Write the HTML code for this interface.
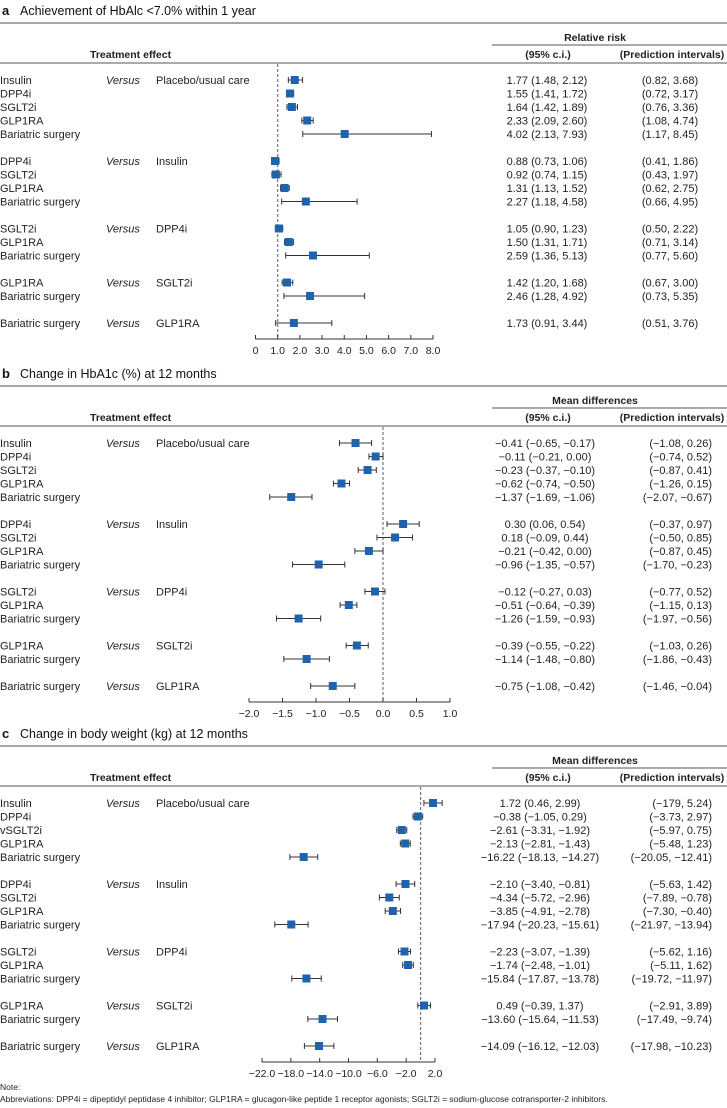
<!DOCTYPE html>
<html><head><meta charset="utf-8">
<style>
html,body{margin:0;padding:0;background:#fff;}
svg{display:block;font-family:"Liberation Sans",Arial,sans-serif;}
</style></head>
<body>
<svg id="fig" width="727" height="1108" viewBox="0 0 727 1108" xmlns="http://www.w3.org/2000/svg"></svg>
<script>
const rowIdx=[0,1,2,3,4,6,7,8,9,11,12,13,15,16,18];
const treatA=["Insulin","DPP4i","SGLT2i","GLP1RA","Bariatric surgery","DPP4i","SGLT2i","GLP1RA","Bariatric surgery","SGLT2i","GLP1RA","Bariatric surgery","GLP1RA","Bariatric surgery","Bariatric surgery"];
const treatC=["Insulin","DPP4i","vSGLT2i","GLP1RA","Bariatric surgery","DPP4i","SGLT2i","GLP1RA","Bariatric surgery","SGLT2i","GLP1RA","Bariatric surgery","GLP1RA","Bariatric surgery","Bariatric surgery"];
const comparators=["Placebo/usual care","","","","","Insulin","","","","DPP4i","","","SGLT2i","","GLP1RA"];

const aEst=[1.77,1.55,1.64,2.33,4.02,0.88,0.92,1.31,2.27,1.05,1.50,2.59,1.42,2.46,1.73];
const aLo=[1.48,1.41,1.42,2.09,2.13,0.73,0.74,1.13,1.18,0.90,1.31,1.36,1.20,1.28,0.91];
const aHi=[2.12,1.72,1.89,2.60,7.93,1.06,1.15,1.52,4.58,1.23,1.71,5.13,1.68,4.92,3.44];
const aPI=["(0.82, 3.68)","(0.72, 3.17)","(0.76, 3.36)","(1.08, 4.74)","(1.17, 8.45)","(0.41, 1.86)","(0.43, 1.97)","(0.62, 2.75)","(0.66, 4.95)","(0.50, 2.22)","(0.71, 3.14)","(0.77, 5.60)","(0.67, 3.00)","(0.73, 5.35)","(0.51, 3.76)"];
const aTicks=[0,1,2,3,4,5,6,7,8];
const aTickLabels=["0","1.0","2.0","3.0","4.0","5.0","6.0","7.0","8.0"];

const bEst=[-0.41,-0.11,-0.23,-0.62,-1.37,0.30,0.18,-0.21,-0.96,-0.12,-0.51,-1.26,-0.39,-1.14,-0.75];
const bLo=[-0.65,-0.21,-0.37,-0.74,-1.69,0.06,-0.09,-0.42,-1.35,-0.27,-0.64,-1.59,-0.55,-1.48,-1.08];
const bHi=[-0.17,0.00,-0.10,-0.50,-1.06,0.54,0.44,0.00,-0.57,0.03,-0.39,-0.93,-0.22,-0.80,-0.42];
const bPI=["(−1.08, 0.26)","(−0.74, 0.52)","(−0.87, 0.41)","(−1.26, 0.15)","(−2.07, −0.67)","(−0.37, 0.97)","(−0.50, 0.85)","(−0.87, 0.45)","(−1.70, −0.23)","(−0.77, 0.52)","(−1.15, 0.13)","(−1.97, −0.56)","(−1.03, 0.26)","(−1.86, −0.43)","(−1.46, −0.04)"];
const bTicks=[-2,-1.5,-1,-0.5,0,0.5,1];
const bTickLabels=["−2.0","−1.5","−1.0","−0.5","0.0","0.5","1.0"];

const cEst=[1.72,-0.38,-2.61,-2.13,-16.22,-2.10,-4.34,-3.85,-17.94,-2.23,-1.74,-15.84,0.49,-13.60,-14.09];
const cLo=[0.46,-1.05,-3.31,-2.81,-18.13,-3.40,-5.72,-4.91,-20.23,-3.07,-2.48,-17.87,-0.39,-15.64,-16.12];
const cHi=[2.99,0.29,-1.92,-1.43,-14.27,-0.81,-2.96,-2.78,-15.61,-1.39,-1.01,-13.78,1.37,-11.53,-12.03];
const cPI=["(−179, 5.24)","(−3.73, 2.97)","(−5.97, 0.75)","(−5.48, 1.23)","(−20.05, −12.41)","(−5.63, 1.42)","(−7.89, −0.78)","(−7.30, −0.40)","(−21.97, −13.94)","(−5.62, 1.16)","(−5.11, 1.62)","(−19.72, −11.97)","(−2.91, 3.89)","(−17.49, −9.74)","(−17.98, −10.23)"];
const cTicks=[-22,-18,-14,-10,-6,-2,2];
const cTickLabels=["−22.0","−18.0","−14.0","−10.0","−6.0","−2.0","2.0"];

const svg=document.getElementById('fig');
const NS='http://www.w3.org/2000/svg';
function mk(tag,attrs,parent){const e=document.createElementNS(NS,tag);for(const k in attrs)e.setAttribute(k,attrs[k]);(parent||svg).appendChild(e);return e;}
function txt(s,x,y,opts,parent){const e=mk('text',Object.assign({x:x,y:y,'font-size':11,fill:'#222'},opts||{}),parent);e.textContent=s;return e;}
function fmt(v){const s=Math.abs(v).toFixed(2);return (v<0?'−':'')+s;}

function panel(cfg){
  const g=mk('g',{});
  
  
  const r0=cfg.r0;
  const t1=txt(cfg.letter,2,r0-65,{'font-size':13,'font-weight':'bold',fill:'#111'},g);
  
  const t2=txt(cfg.title,20,r0-65,{'font-size':12.5,fill:'#111'},g);
  
  mk('line',{x1:0,x2:727,y1:r0-57,y2:r0-57,stroke:'#888','stroke-width':1.5},g);
  const t3=txt(cfg.measure,595,r0-39,{'font-size':10.5,'font-weight':'bold','text-anchor':'middle'},g);
  
  mk('line',{x1:492,x2:727,y1:r0-35,y2:r0-35,stroke:'#555','stroke-width':1},g);
  const t4=txt('Treatment effect',90,r0-22,{'font-size':10.5,'font-weight':'bold'},g);
  
  const t5=txt('(95% c.i.)',548,r0-22,{'font-size':10.5,'font-weight':'bold','text-anchor':'middle'},g);
  
  const t6=txt('(Prediction intervals)',672,r0-22,{'font-size':10.5,'font-weight':'bold','text-anchor':'middle'},g);
  
  mk('line',{x1:0,x2:727,y1:r0-17,y2:r0-17,stroke:'#555','stroke-width':1},g);
  const X=v=>cfg.x0+(v-cfg.d0)*(cfg.x1-cfg.x0)/(cfg.d1-cfg.d0);
  // reference line
  const ref=mk('line',{x1:X(cfg.ref),x2:X(cfg.ref),y1:r0-16,y2:r0+259,stroke:'#777','stroke-width':1.2,'stroke-dasharray':'3,2'},g);
  
  // axis
  const ax=mk('g',{},g);
  
  mk('line',{x1:X(cfg.ticks[0]),x2:X(cfg.ticks[cfg.ticks.length-1]),y1:r0+259,y2:r0+259,stroke:'#333','stroke-width':1},ax);
  cfg.ticks.forEach((t,i)=>{
    mk('line',{x1:X(t),x2:X(t),y1:r0+259,y2:r0+255,stroke:'#333','stroke-width':1},ax);
    const tl=txt(cfg.tickLabels[i],X(t),r0+274,{'font-size':10.5,'text-anchor':'middle'},ax);
    
  });
  cfg.est.forEach((e,i)=>{
    const y=r0+rowIdx[i]*13.5;
    const ty=y+4;
    const rl=txt(cfg.treat[i],0,ty,{},g);
    
    if(comparators[i]){
      const vs=txt('Versus',106,ty,{'font-style':'italic'},g);
      
      const cl=txt(comparators[i],156,ty,{},g);
      
    }
    const ct=txt(fmt(e)+' ('+fmt(cfg.lo[i])+', '+fmt(cfg.hi[i])+')',cfg.ciX,ty,{'text-anchor':'middle'},g);
    
    const pt=txt(cfg.pi[i],cfg.piX,ty,{'text-anchor':cfg.piAnchor},g);
    
    const m=mk('g',{},g);
    
    
    const xl=X(cfg.lo[i]),xh=X(cfg.hi[i]);
    mk('line',{x1:xl,x2:xh,y1:y,y2:y,stroke:'#333','stroke-width':1},m);
    mk('line',{x1:xl,x2:xl,y1:y-3,y2:y+3,stroke:'#333','stroke-width':1},m);
    mk('line',{x1:xh,x2:xh,y1:y-3,y2:y+3,stroke:'#333','stroke-width':1},m);
    mk('rect',{x:X(e)-4,y:y-4,width:8,height:8,fill:'#1f63ad'},m);
  });
}
panel({letter:'a',title:'Achievement of HbAlc <7.0% within 1 year',measure:'Relative risk',r0:80,treat:treatA,est:aEst,lo:aLo,hi:aHi,pi:aPI,ticks:aTicks,tickLabels:aTickLabels,x0:255.5,x1:433,d0:0,d1:8,ref:1,ciX:547,piX:670,piAnchor:'middle'});
panel({letter:'b',title:'Change in HbA1c (%) at 12 months',measure:'Mean differences',r0:443,treat:treatA,est:bEst,lo:bLo,hi:bHi,pi:bPI,ticks:bTicks,tickLabels:bTickLabels,x0:249,x1:450,d0:-2,d1:1,ref:0,ciX:545,piX:712,piAnchor:'end'});
panel({letter:'c',title:'Change in body weight (kg) at 12 months',measure:'Mean differences',r0:803,treat:treatC,est:cEst,lo:cLo,hi:cHi,pi:cPI,ticks:cTicks,tickLabels:cTickLabels,x0:262,x1:435,d0:-22,d1:2,ref:0,ciX:540,piX:712,piAnchor:'end'});
const n1=txt('Note:',0,1090,{'font-size':8.5},svg);

const n2=txt('Abbreviations: DPP4i = dipeptidyl peptidase 4 inhibitor; GLP1RA = glucagon-like peptide 1 receptor agonists; SGLT2i = sodium-glucose cotransporter-2 inhibitors.',0,1102,{'font-size':8.5},svg);

</script>
</body></html>
